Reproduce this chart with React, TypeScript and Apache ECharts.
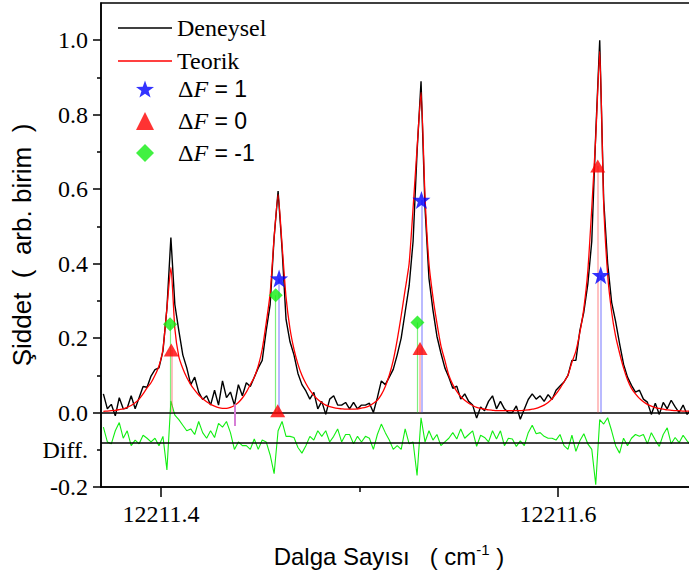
import React, { useEffect, useRef } from "react";
import * as echarts from "echarts";

// Sampling grid of the spectrum (wavenumber of first sample and spacing)
const X_START = 12211.371;
const X_STEP = 0.002;

// Experimental spectrum (Deneysel)
const DENEYSEL = [
  0.050, 0.010, 0.022, -0.009, 0.040, 0.010, 0.012, 0.045, 0.010, 0.040,
  0.070, 0.068, 0.098, 0.115, 0.120, 0.165, 0.280, 0.470, 0.290, 0.220,
  0.155, 0.120, 0.075, 0.095, 0.055, 0.035, 0.045, 0.020, 0.060, 0.020,
  0.085, 0.040, 0.055, 0.020, 0.075, 0.045, 0.080, 0.070, 0.095, 0.120,
  0.140, 0.220, 0.290, 0.470, 0.595, 0.440, 0.250, 0.190, 0.155, 0.105,
  0.075, 0.058, 0.036, 0.054, 0.010, 0.030, -0.005, 0.036, 0.045, 0.020,
  0.020, 0.027, 0.010, 0.027, 0.010, 0.020, 0.020, 0.025, 0.000, 0.040,
  0.085, 0.075, 0.095, 0.116, 0.155, 0.200, 0.270, 0.340, 0.460, 0.700,
  0.890, 0.550, 0.360, 0.275, 0.205, 0.160, 0.120, 0.095, 0.065, 0.071,
  0.036, 0.050, 0.030, 0.020, -0.015, 0.015, 0.005, 0.030, 0.045, 0.010,
  0.030, 0.010, 0.000, 0.000, 0.018, -0.018, 0.009, 0.035, 0.050, 0.036,
  0.045, 0.030, 0.048, 0.035, 0.060, 0.071, 0.082, 0.100, 0.140, 0.140,
  0.220, 0.270, 0.345, 0.460, 0.750, 1.000, 0.570, 0.400, 0.296, 0.245,
  0.185, 0.130, 0.095, 0.073, 0.055, 0.060, 0.036, 0.028, -0.005, 0.025,
  -0.005, 0.027, 0.010, 0.033, 0.015, 0.000, 0.020, -0.005, 0.010, 0.000,
];

// Theoretical spectrum (Teorik)
const TEORIK = [
  0.003, 0.004, 0.005, 0.006, 0.008, 0.010, 0.014, 0.019, 0.026, 0.036,
  0.050, 0.066, 0.080, 0.100, 0.125, 0.170, 0.280, 0.390, 0.225, 0.150,
  0.118, 0.094, 0.075, 0.060, 0.047, 0.037, 0.029, 0.022, 0.017, 0.013,
  0.011, 0.011, 0.014, 0.019, 0.027, 0.039, 0.055, 0.075, 0.095, 0.125,
  0.170, 0.240, 0.320, 0.470, 0.585, 0.450, 0.310, 0.225, 0.170, 0.130,
  0.100, 0.078, 0.060, 0.046, 0.035, 0.027, 0.020, 0.016, 0.013, 0.011,
  0.010, 0.009, 0.009, 0.009, 0.010, 0.012, 0.014, 0.018, 0.025, 0.033,
  0.048, 0.070, 0.100, 0.140, 0.195, 0.260, 0.330, 0.400, 0.550, 0.710,
  0.860, 0.580, 0.400, 0.310, 0.240, 0.180, 0.140, 0.100, 0.075, 0.057,
  0.043, 0.033, 0.025, 0.019, 0.014, 0.011, 0.009, 0.007, 0.006, 0.005,
  0.005, 0.005, 0.005, 0.005, 0.005, 0.005, 0.006, 0.007, 0.009, 0.011,
  0.015, 0.020, 0.027, 0.037, 0.050, 0.065, 0.082, 0.100, 0.135, 0.165,
  0.215, 0.280, 0.380, 0.550, 0.740, 0.970, 0.560, 0.370, 0.270, 0.205,
  0.160, 0.120, 0.088, 0.065, 0.050, 0.038, 0.029, 0.022, 0.017, 0.013,
  0.011, 0.009, 0.007, 0.006, 0.005, 0.005, 0.004, 0.004, 0.004, 0.004,
];

// Residual (experiment - theory), drawn shifted down by DIFF_OFFSET
const DIFF = [
  0.040, 0.000, -0.005, 0.030, 0.052, 0.010, 0.030, -0.010, 0.005, -0.005,
  0.018, 0.010, 0.000, 0.010, -0.010, 0.015, -0.075, 0.110, 0.072, 0.060,
  0.045, 0.030, 0.035, 0.020, 0.055, 0.025, 0.010, 0.030, 0.012, 0.050,
  0.040, 0.055, 0.025, -0.020, 0.000, -0.010, -0.010, -0.020, 0.008, -0.020,
  0.005, 0.000, -0.035, -0.085, 0.030, 0.055, 0.015, 0.015, 0.012, -0.015,
  -0.030, -0.010, 0.015, 0.005, 0.030, 0.015, 0.030, 0.000, 0.015, 0.035,
  0.000, 0.020, 0.020, -0.005, 0.015, 0.000, 0.015, 0.010, -0.020, 0.020,
  0.048, 0.025, 0.005, -0.020, -0.010, -0.020, 0.035, -0.005, 0.000, -0.090,
  0.065, 0.000, 0.030, 0.005, 0.020, -0.010, 0.000, 0.010, 0.025, 0.008,
  0.035, 0.010, 0.020, 0.030, -0.012, 0.018, 0.012, 0.000, 0.030, 0.008,
  0.030, -0.010, 0.010, 0.008, -0.012, 0.003, -0.010, 0.025, 0.045, 0.022,
  0.025, 0.015, 0.010, 0.010, 0.005, 0.020, -0.010, -0.020, 0.018, -0.025,
  0.003, 0.022, -0.005, -0.020, -0.115, 0.060, 0.048, 0.065, 0.030, -0.010,
  -0.030, 0.010, -0.010, 0.010, 0.020, 0.015, 0.020, -0.005, 0.025, 0.005,
  -0.012, 0.020, 0.038, -0.005, 0.012, -0.002, 0.018, 0.003, -0.010, 0.000,
];
const DIFF_OFFSET = -0.079;

// Stick spectrum components [wavenumber, intensity]
const DF_PLUS1 = [
  [12211.4595, 0.36],
  [12211.5312, 0.571],
  [12211.6215, 0.369],
];
const DF_ZERO = [
  [12211.4052, 0.168],
  [12211.4588, 0.005],
  [12211.5305, 0.172],
  [12211.62, 0.662],
];
const DF_MINUS1 = [
  [12211.4046, 0.237],
  [12211.4578, 0.315],
  [12211.5292, 0.242],
];
// weak overlapped component near 12211.437 [x, top, bottom]
const WEAK_STICK = [12211.4371, 0.022, -0.036];

// Axes
const X_MIN = 12211.3698;
const X_MAX = 12211.67;
const Y_MIN = -0.2;
const Y_MAX = 1.1;
const X_TICKS = [12211.4, 12211.6];
const X_MINOR = [12211.5];
const Y_TICKS = [-0.2, 0, 0.2, 0.4, 0.6, 0.8, 1.0];
const Y_MINOR = [-0.1, 0.1, 0.3, 0.5, 0.7, 0.9];
const DIFF_LABEL_AT = [-0.1];

const SERIF = "'Liberation Serif', 'Times New Roman', 'DejaVu Serif', serif";
const SANS = "'Liberation Sans', Arial, 'DejaVu Sans', sans-serif";

const STAR =
  "path://M50 0 L61.76 33.82 L97.55 34.55 L69.02 56.18 L79.39 90.45 L50 70 L20.61 90.45 L30.98 56.18 L2.45 34.55 L38.24 33.82 Z";

const toXY = (arr: number[], off = 0) =>
  arr.map((v, i) => [X_START + i * X_STEP, v + off]);

const sticks = (arr: number[][]) =>
  arr.map(([x, y]) => [{ coord: [x, 0] }, { coord: [x, y] }]);

export default function App() {
  const ref = useRef<HTMLDivElement>(null);

  useEffect(() => {
    if (!ref.current) return;
    const chart = echarts.init(ref.current, undefined, { renderer: "svg" });
    const black = "#000";

    const option: any = {
      animation: false,
      backgroundColor: "#fff",
      grid: {
        left: 101,
        top: 3,
        width: 596,
        height: 484,
        show: true,
        borderColor: black,
        borderWidth: 1.5,
        backgroundColor: "transparent",
      },
      legend: [
        {
          data: [
            { name: "Deneysel", icon: "rect", itemStyle: { color: black } },
            { name: "Teorik", icon: "rect", itemStyle: { color: "#ff0000" } },
          ],
          orient: "vertical",
          left: 118,
          top: 16,
          padding: 0,
          itemWidth: 54,
          itemHeight: 1.5,
          itemGap: 9,
          selectedMode: false,
          textStyle: { fontFamily: SERIF, fontSize: 24, color: black, lineHeight: 24 },
        },
        {
          data: ["ΔF = 1", "ΔF = 0", "ΔF = -1"],
          orient: "vertical",
          left: 136,
          top: 77,
          padding: 0,
          itemWidth: 18,
          itemHeight: 18,
          itemGap: 8,
          selectedMode: false,
          formatter: (name: string) => `{d|Δ}{f|F}{s|${name.replace("ΔF", "")}}`,
          textStyle: {
            color: black,
            lineHeight: 24,
            rich: {
              d: { fontFamily: SERIF, fontSize: 24, color: black, padding: [0, 0, 0, 19], lineHeight: 24 },
              f: { fontFamily: SERIF, fontStyle: "italic", fontSize: 24, color: black, lineHeight: 24 },
              s: { fontFamily: SANS, fontSize: 23, color: black, lineHeight: 24 },
            },
          },
        },
      ],
      xAxis: [
        {
          type: "value",
          min: X_MIN,
          max: X_MAX,
          position: "bottom",
          axisLine: { show: true, onZero: false, lineStyle: { color: black, width: 1.5 } },
          axisTick: { show: true, inside: false, length: 10, customValues: X_TICKS, lineStyle: { color: black, width: 1.5 } },
          axisLabel: {
            customValues: X_TICKS,
            formatter: (v: number) => v.toFixed(1),
            fontFamily: SERIF,
            fontSize: 24,
            color: black,
            margin: 15,
          },
          splitLine: { show: false },
          name: "{a|Dalga Sayısı   ( cm}{b|-1}{a| )}",
          nameLocation: "middle",
          nameGap: 55,
          nameTextStyle: {
            padding: [0, 20, 0, 0],
            rich: {
              a: { fontFamily: SANS, fontSize: 24, color: black, lineHeight: 28 },
              b: { fontFamily: SANS, fontSize: 15, color: black, padding: [0, 0, 14, 0] },
            },
          },
        },
        {
          type: "value",
          min: X_MIN,
          max: X_MAX,
          position: "bottom",
          axisLine: { show: false, onZero: false },
          axisTick: { show: true, length: 5, customValues: X_MINOR, lineStyle: { color: black, width: 1.5 } },
          axisLabel: { show: false },
          splitLine: { show: false },
        },
      ],
      yAxis: [
        {
          type: "value",
          min: Y_MIN,
          max: Y_MAX,
          position: "left",
          axisLine: { show: true, onZero: false, lineStyle: { color: black, width: 1.5 } },
          axisTick: { show: true, length: 8, customValues: Y_TICKS, lineStyle: { color: black, width: 1.5 } },
          axisLabel: {
            customValues: Y_TICKS,
            formatter: (v: number) => v.toFixed(1),
            fontFamily: SERIF,
            fontSize: 24,
            color: black,
            margin: 13,
          },
          splitLine: { show: false },
          name: "Şiddet  (  arb. birim  )",
          nameLocation: "middle",
          nameRotate: 90,
          nameGap: 66,
          nameTextStyle: { fontFamily: SANS, fontSize: 26, color: black },
        },
        {
          type: "value",
          min: Y_MIN,
          max: Y_MAX,
          position: "left",
          axisLine: { show: false, onZero: false },
          axisTick: { show: true, length: 4, customValues: Y_MINOR, lineStyle: { color: black, width: 1.5 } },
          axisLabel: {
            customValues: DIFF_LABEL_AT,
            formatter: () => "Diff.",
            fontFamily: SERIF,
            fontSize: 24,
            color: black,
            margin: 13,
          },
          splitLine: { show: false },
        },
      ],
      series: [
        {
          name: "Deneysel",
          type: "line",
          data: toXY(DENEYSEL),
          symbol: "none",
          showSymbol: false,
          color: black,
          lineStyle: { color: black, width: 1.4 },
          z: 3,
        },
        {
          name: "Teorik",
          type: "line",
          data: toXY(TEORIK),
          symbol: "none",
          showSymbol: false,
          smooth: 0.2,
          color: "#ff0000",
          lineStyle: { color: "#ff0000", width: 1.3 },
          z: 4,
        },
        {
          name: "Diff",
          type: "line",
          data: toXY(DIFF, DIFF_OFFSET),
          symbol: "none",
          showSymbol: false,
          color: "#11ee11",
          lineStyle: { color: "#11ee11", width: 1.1 },
          z: 2,
          markLine: {
            silent: true,
            symbol: ["none", "none"],
            label: { show: false },
            lineStyle: { color: black, width: 1.5, type: "solid" },
            data: [{ yAxis: 0 }, { yAxis: DIFF_OFFSET }],
          },
        },
        {
          name: "ΔF = 1",
          type: "scatter",
          data: DF_PLUS1,
          symbol: STAR,
          symbolSize: 18,
          color: "#0000ff",
          itemStyle: { color: "#0000ff" },
          z: 6,
          markLine: {
            silent: true,
            symbol: ["none", "none"],
            label: { show: false },
            lineStyle: { color: "rgba(90,90,255,0.55)", width: 1.5, type: "solid" },
            data: [
              ...sticks(DF_PLUS1),
              [
                { coord: [WEAK_STICK[0], WEAK_STICK[1]], lineStyle: { color: "#d67ed6", width: 2, type: "solid" } },
                { coord: [WEAK_STICK[0], WEAK_STICK[2]] },
              ],
            ],
          },
        },
        {
          name: "ΔF = 0",
          type: "scatter",
          data: DF_ZERO,
          symbol: "triangle",
          symbolSize: [15, 13],
          color: "#ff0000",
          itemStyle: { color: "#ff0000" },
          z: 6,
          markLine: {
            silent: true,
            symbol: ["none", "none"],
            label: { show: false },
            lineStyle: { color: "rgba(255,90,90,0.5)", width: 1.5, type: "solid" },
            data: sticks(DF_ZERO),
          },
        },
        {
          name: "ΔF = -1",
          type: "scatter",
          data: DF_MINUS1,
          symbol: "diamond",
          symbolSize: 14,
          color: "#11ee11",
          itemStyle: { color: "#11ee11" },
          z: 6,
          markLine: {
            silent: true,
            symbol: ["none", "none"],
            label: { show: false },
            lineStyle: { color: "rgba(40,230,40,0.6)", width: 1.2, type: "solid" },
            data: sticks(DF_MINUS1),
          },
        },
      ],
    };

    chart.setOption(option);
    return () => chart.dispose();
  }, []);

  return (
    <div
      style={{
        position: "fixed",
        left: 0,
        top: 0,
        width: 689,
        height: 578,
        overflow: "hidden",
        background: "#fff",
      }}
    >
      <div ref={ref} style={{ width: 720, height: 578 }} />
    </div>
  );
}
